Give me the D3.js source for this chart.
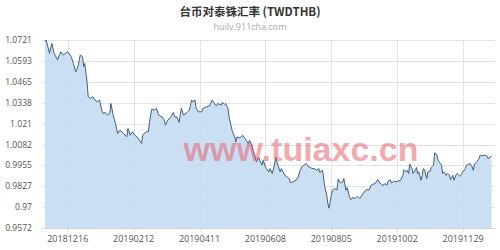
<!DOCTYPE html>
<html>
<head>
<meta charset="utf-8">
<script src="https://cdn.jsdelivr.net/npm/d3@7"></script>
<style>
  body { margin: 0; background: #fff; }
  svg { display: block; }
</style>
</head>
<body>
<div id="chart"></div>
<script>
// dates and TWD/THB rates
var dates = [
  '20181126','20181127','20181130','20181202','20181204','20181207','20181210','20181212','20181214','20181216',
  '20181219','20181221','20181223','20181225','20181227','20181229','20181230','20181231','20190102','20190103',
  '20190105','20190107','20190109','20190111','20190113','20190115','20190116','20190118','20190120','20190122',
  '20190123','20190125','20190127','20190129','20190131','20190203','20190206','20190207','20190209','20190211',
  '20190213','20190215','20190217','20190219','20190220','20190223','20190225','20190226','20190228','20190302',
  '20190304','20190306','20190309','20190311','20190312','20190314','20190316','20190319','20190320','20190322',
  '20190324','20190326','20190328','20190331','20190402','20190404','20190405','20190407','20190408','20190410',
  '20190413','20190414','20190417','20190420','20190422','20190425','20190426','20190427','20190430','20190501',
  '20190503','20190504','20190506','20190507','20190509','20190510','20190512','20190513','20190514','20190516',
  '20190518','20190519','20190521','20190522','20190524','20190525','20190527','20190528','20190530','20190531',
  '20190602','20190603','20190605','20190606','20190608','20190609','20190611','20190612','20190614','20190616',
  '20190617','20190619','20190621','20190622','20190625','20190627','20190629','20190630','20190702','20190705',
  '20190707','20190708','20190710','20190712','20190714','20190716','20190717','20190719','20190721','20190723',
  '20190725','20190726','20190728','20190729','20190730','20190801','20190802','20190803','20190805','20190806',
  '20190808','20190810','20190811','20190813','20190815','20190816','20190818','20190819','20190821','20190822',
  '20190824','20190826','20190828','20190830','20190901','20190903','20190905','20190907','20190909','20190911',
  '20190913','20190915','20190916','20190918','20190920','20190921','20190923','20190924','20190926','20190927',
  '20190929','20191001','20191003','20191005','20191007','20191008','20191010','20191011','20191012','20191013',
  '20191015','20191016','20191018','20191019','20191020','20191021','20191023','20191024','20191025','20191026',
  '20191028','20191029','20191031','20191101','20191103','20191104','20191106','20191107','20191109','20191110',
  '20191111','20191112','20191114','20191115','20191117','20191118','20191120','20191121','20191123','20191124',
  '20191126','20191127','20191128','20191201','20191202','20191204','20191205','20191207','20191208','20191209',
  '20191211','20191213','20191214','20191216','20191218','20191220','20191221','20191223','20191224'
];

var rates = [
  1.0712,1.0721,1.0640,1.0701,1.0640,1.0599,1.0649,1.0629,1.0640,1.0649,
  1.0619,1.0578,1.0527,1.0558,1.0629,1.0619,1.0558,1.0578,1.0466,1.0374,
  1.0364,1.0374,1.0354,1.0343,1.0354,1.0292,1.0272,1.0278,1.0262,1.0272,
  1.0333,1.0262,1.0211,1.0150,1.0170,1.0150,1.0129,1.0180,1.0139,1.0160,
  1.0139,1.0129,1.0109,1.0089,1.0139,1.0160,1.0160,1.0221,1.0299,1.0292,
  1.0303,1.0262,1.0251,1.0231,1.0201,1.0231,1.0242,1.0278,1.0251,1.0251,
  1.0217,1.0303,1.0262,1.0278,1.0292,1.0354,1.0343,1.0354,1.0303,1.0282,
  1.0282,1.0303,1.0313,1.0319,1.0354,1.0323,1.0319,1.0333,1.0323,1.0340,
  1.0327,1.0333,1.0303,1.0251,1.0190,1.0160,1.0129,1.0098,1.0129,1.0123,
  1.0129,1.0139,1.0119,1.0109,1.0089,1.0109,1.0078,1.0047,1.0006,0.9976,
  1.0006,0.9986,0.9956,0.9986,0.9945,0.9935,0.9915,0.9935,0.9905,0.9956,
  1.0006,0.9956,0.9915,0.9935,0.9894,0.9884,0.9874,0.9850,0.9853,0.9864,
  0.9884,0.9915,0.9945,0.9956,0.9966,0.9945,0.9945,0.9935,0.9935,0.9925,
  0.9935,0.9911,0.9925,0.9894,0.9833,0.9772,0.9721,0.9693,0.9772,0.9803,
  0.9813,0.9805,0.9870,0.9848,0.9853,0.9874,0.9803,0.9819,0.9762,0.9746,
  0.9758,0.9752,0.9766,0.9752,0.9772,0.9792,0.9807,0.9803,0.9833,0.9839,
  0.9847,0.9868,0.9853,0.9839,0.9833,0.9844,0.9833,0.9859,0.9864,0.9847,
  0.9859,0.9853,0.9859,0.9864,0.9894,0.9929,0.9915,0.9925,0.9905,0.9962,
  0.9935,0.9905,0.9925,0.9942,0.9905,0.9915,0.9864,0.9894,0.9935,0.9929,
  0.9874,0.9915,0.9919,0.9942,0.9956,1.0031,1.0017,0.9986,0.9966,0.9956,
  0.9905,0.9915,0.9894,0.9905,0.9894,0.9868,0.9894,0.9864,0.9900,0.9905,
  0.9888,0.9894,0.9908,0.9935,0.9956,0.9962,0.9966,0.9945,0.9925,0.9962,
  0.9976,0.9997,1.0017,1.0013,1.0017,1.0011,0.9997,1.0006,1.0013
];

var yTicks = [1.0721, 1.0593, 1.0465, 1.0338, 1.021, 1.0082, 0.9955, 0.9827, 0.97, 0.9572];
var xTicks = ['20181216', '20190212', '20190411', '20190608', '20190805', '20191002', '20191129'];

var title = '台币对泰铢汇率 (TWDTHB)';
var subtitle = 'huilv.911cha.com';
var watermark = 'www.tuiaxc.cn';

drawChart();

function drawChart() {
  var w = 500;
  var h = 250;
  var padLeft = 42, padRight = 495, padTop = 40, padBottom = 228;

  var parse = d3.timeParse('%Y%m%d');

  var data = dates.map(function (d, i) {return { date: parse(d), rate: rates[i] };});

  var svg = d3.select('#chart').append('svg').
  attr('width', w).
  attr('height', h);

  var x = d3.scaleTime().
  domain([parse('20181126'), parse('20191224')]).
  range([45, 491.5]);

  var y = d3.scaleLinear().
  domain([d3.min(yTicks), d3.max(yTicks)]).
  range([padBottom, padTop]);

  // title
  svg.append('text').
  attr('x', w / 2).
  attr('y', 16).
  attr('text-anchor', 'middle').
  style('font-family', '"Noto Sans CJK SC", "Open Sans", sans-serif').
  style('font-size', '11.5px').
  style('font-weight', 'bold').
  style('fill', '#333').
  text(title);

  svg.append('text').
  attr('x', w / 2).
  attr('y', 30).
  attr('text-anchor', 'middle').
  style('font-family', '"Open Sans", sans-serif').
  style('font-size', '9px').
  style('fill', '#aaa').
  text(subtitle);

  // horizontal grid
  svg.append('g').
  selectAll('line').
  data(yTicks).
  enter().
  append('line').
  attr('x1', padLeft).
  attr('x2', padRight).
  attr('y1', function (d) {return Math.round(y(d)) + 0.5;}).
  attr('y2', function (d) {return Math.round(y(d)) + 0.5;}).
  attr('stroke', '#e3e3e3').
  attr('stroke-width', 1);

  // vertical grid + tick marks
  svg.append('g').
  selectAll('line').
  data(xTicks).
  enter().
  append('line').
  attr('x1', function (d) {return Math.round(x(parse(d))) + 0.5;}).
  attr('x2', function (d) {return Math.round(x(parse(d))) + 0.5;}).
  attr('y1', padTop).
  attr('y2', padBottom + 4).
  attr('stroke', '#e3e3e3').
  attr('stroke-width', 1);

  // area + line
  var area = d3.area().
  x(function (d) {return x(d.date);}).
  y0(padBottom).
  y1(function (d) {return y(d.rate);});

  var line = d3.line().
  x(function (d) {return x(d.date);}).
  y(function (d) {return y(d.rate);});

  svg.append('path').
  datum(data).
  attr('d', area).
  attr('fill', '#c4dcf3').
  attr('fill-opacity', 0.9);

  svg.append('path').
  datum(data).
  attr('d', line).
  attr('fill', 'none').
  attr('stroke', '#3e5f80').
  attr('stroke-width', 1);

  // bottom axis line
  svg.append('line').
  attr('x1', padLeft).
  attr('x2', padRight).
  attr('y1', padBottom + 0.5).
  attr('y2', padBottom + 0.5).
  attr('stroke', '#cfcfcf');

  // y labels
  svg.append('g').
  selectAll('text').
  data(yTicks).
  enter().
  append('text').
  attr('x', 32).
  attr('y', function (d) {return y(d);}).
  attr('dy', '0.35em').
  attr('text-anchor', 'end').
  style('font-family', '"Open Sans", sans-serif').
  style('font-size', '8.6px').
  style('fill', '#555').
  text(function (d) {return d;});

  // x labels
  svg.append('g').
  selectAll('text').
  data(xTicks).
  enter().
  append('text').
  attr('x', function (d) {return x(parse(d));}).
  attr('y', 242).
  attr('text-anchor', 'middle').
  style('font-family', '"Open Sans", sans-serif').
  style('font-size', '9px').
  style('fill', '#555').
  text(function (d) {return d;});

  // watermark
  svg.append('text').
  attr('x', 301).
  attr('y', 161).
  attr('text-anchor', 'middle').
  style('font-family', '"Liberation Sans", sans-serif').
  style('font-size', '34px').
  style('font-weight', 'bold').
  style('fill', '#e8606e').
  style('fill-opacity', 0.55).
  text(watermark);
}
</script>
</body>
</html>
